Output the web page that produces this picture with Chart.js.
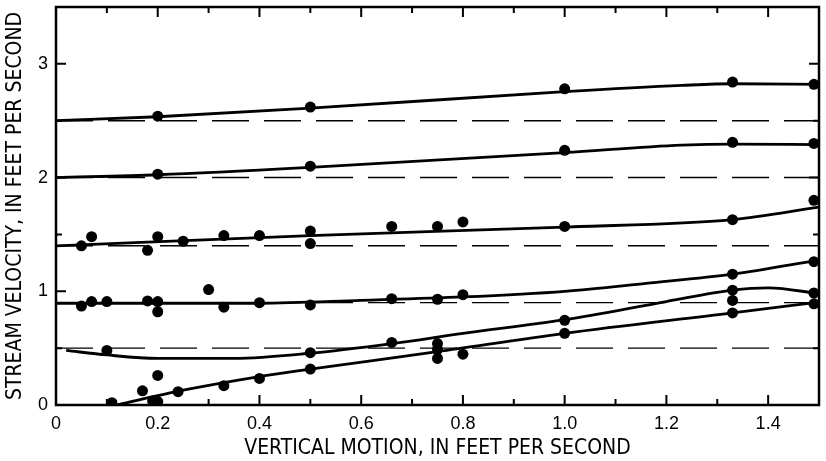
<!DOCTYPE html>
<html>
<head>
<meta charset="utf-8">
<script src="https://cdn.jsdelivr.net/npm/chart.js@4.4.1/dist/chart.umd.min.js"></script>
<style>
  html, body { margin: 0; padding: 0; background: #fff; }
  #wrap { width: 826px; height: 461px; position: relative; }
</style>
</head>
<body>
<div id="wrap"><canvas id="myChart"></canvas></div>
<script>
// reference levels (dashed lines)
const bandLevels = [2.5, 2.0, 1.4, 0.9, 0.5];

const bandAX = [0.2, 0.5, 1.0, 1.33, 1.49];
const bandAY = [2.54, 2.62, 2.78, 2.84, 2.82];
const bandBX = [0.2, 0.5, 1.0, 1.33, 1.49];
const bandBY = [2.03, 2.10, 2.24, 2.31, 2.30];
const bandCX = [0.05, 0.07, 0.18, 0.2, 0.25, 0.33, 0.4, 0.5, 0.5, 0.66, 0.75, 0.8, 1.0, 1.33, 1.49];
const bandCY = [1.40, 1.48, 1.36, 1.48, 1.44, 1.49, 1.49, 1.53, 1.42, 1.57, 1.57, 1.61, 1.57, 1.63, 1.80];
const bandDX = [0.05, 0.07, 0.1, 0.18, 0.2, 0.2, 0.3, 0.33, 0.4, 0.5, 0.66, 0.75, 0.8, 1.33, 1.49];
const bandDY = [0.87, 0.91, 0.91, 0.915, 0.91, 0.82, 1.015, 0.86, 0.90, 0.88, 0.935, 0.93, 0.97, 1.15, 1.26];
const bandEX = [0.1, 0.5, 0.66, 0.75, 0.75, 1.0, 1.33, 1.33, 1.49];
const bandEY = [0.48, 0.46, 0.55, 0.54, 0.49, 0.745, 1.01, 0.92, 0.985];
const bandFX = [0.11, 0.17, 0.19, 0.2, 0.2, 0.24, 0.33, 0.4, 0.5, 0.75, 0.8, 1.0, 1.33, 1.49];
const bandFY = [0.02, 0.125, 0.035, 0.03, 0.26, 0.117, 0.17, 0.234, 0.316, 0.41, 0.447, 0.63, 0.81, 0.89];

// hand-fitted curves as drawn in the figure
const curveAX = [0, 0.2, 0.5, 1.0, 1.23, 1.33, 1.5];
const curveAY = [2.50, 2.535, 2.61, 2.755, 2.81, 2.825, 2.82];
const curveBX = [0, 0.2, 0.5, 1.0, 1.23, 1.33, 1.5];
const curveBY = [2.0, 2.025, 2.09, 2.22, 2.285, 2.295, 2.29];
const curveCX = [0, 0.5, 1.0, 1.33, 1.5];
const curveCY = [1.40, 1.49, 1.565, 1.63, 1.74];
const curveDX = [0, 0.4, 0.6, 0.8, 1.0, 1.16, 1.33, 1.5];
const curveDY = [0.895, 0.895, 0.92, 0.95, 1.0, 1.07, 1.15, 1.275];
const curveEX = [0.02, 0.1, 0.2, 0.35, 0.5, 0.66, 0.8, 1.0, 1.2, 1.33, 1.4, 1.5];
const curveEY = [0.48, 0.44, 0.41, 0.41, 0.455, 0.54, 0.63, 0.75, 0.91, 1.01, 1.03, 0.98];
const curveFX = [0.12, 0.25, 0.4, 0.5, 0.75, 1.0, 1.33, 1.5];
const curveFY = [0, 0.13, 0.25, 0.315, 0.47, 0.63, 0.81, 0.905];

// tick marks (drawn inward on all four sides)
const xMajorTicks = [0.2, 0.4, 0.6, 0.8, 1.0, 1.2, 1.4];
const xMinorTicks = [0.1, 0.3, 0.5, 0.7, 0.9, 1.1, 1.3];
const yMajorTicks = [1, 2, 3];
const yMinorTicks = [0.5, 1.5, 2.5];

const X_MIN = 0, X_MAX = 1.5, Y_MIN = 0, Y_MAX = 3.5;

const FONT = "'Liberation Sans Narrow', 'Arial Narrow', 'DejaVu Sans Condensed', sans-serif";
const TICK_FONT = "'Liberation Sans', Arial, sans-serif";

function zip(xs, ys) {
    return xs.map((x, i) => ({x: x, y: ys[i]}));
}

const pointSets = [[bandAX, bandAY], [bandBX, bandBY], [bandCX, bandCY],
                   [bandDX, bandDY], [bandEX, bandEY], [bandFX, bandFY]];
const curveSets = [[curveAX, curveAY], [curveBX, curveBY], [curveCX, curveCY],
                   [curveDX, curveDY], [curveEX, curveEY], [curveFX, curveFY]];

const datasets = [];

pointSets.forEach(([xs, ys]) => {
    datasets.push({
        data: zip(xs, ys),
        showLine: false,
        pointRadius: 5.5,
        pointBackgroundColor: '#000',
        pointBorderWidth: 0,
        order: 0
    });
});

curveSets.forEach(([xs, ys]) => {
    datasets.push({
        data: zip(xs, ys),
        showLine: true,
        borderColor: '#000',
        borderWidth: 2.8,
        pointRadius: 0,
        cubicInterpolationMode: 'monotone',
        order: 1
    });
});

bandLevels.forEach(level => {
    datasets.push({
        data: [{x: X_MIN, y: level}, {x: X_MAX, y: level}],
        showLine: true,
        borderColor: '#000',
        borderWidth: 1.4,
        borderDash: [37, 15],
        pointRadius: 0,
        order: 2
    });
});

// frame + inward ticks, placed through the chart's own scales
const frameTicks = {
    id: 'frameTicks',
    afterDatasetsDraw(chart) {
        const {ctx, chartArea: a, scales: {x, y}} = chart;
        ctx.save();
        ctx.strokeStyle = '#000';
        ctx.lineWidth = 2.5;
        ctx.strokeRect(a.left, a.top, a.right - a.left, a.bottom - a.top);
        ctx.lineWidth = 2;
        ctx.beginPath();
        const xt = (vals, len) => vals.forEach(v => {
            const px = x.getPixelForValue(v);
            ctx.moveTo(px, a.bottom); ctx.lineTo(px, a.bottom - len);
            ctx.moveTo(px, a.top); ctx.lineTo(px, a.top + len);
        });
        const yt = (vals, len) => vals.forEach(v => {
            const py = y.getPixelForValue(v);
            ctx.moveTo(a.left, py); ctx.lineTo(a.left + len, py);
            ctx.moveTo(a.right, py); ctx.lineTo(a.right - len, py);
        });
        xt(xMajorTicks, 10);
        xt(xMinorTicks, 6);
        yt(yMajorTicks, 10);
        yt(yMinorTicks, 6);
        ctx.stroke();
        ctx.restore();
    }
};

const config = {
    type: 'scatter',
    data: {datasets: datasets},
    options: {
        responsive: true,
        maintainAspectRatio: false,
        animation: false,
        layout: {padding: {top: 7, right: 7, left: 0, bottom: 0}},
        plugins: {
            legend: {display: false},
            tooltip: {enabled: false}
        },
        scales: {
            x: {
                type: 'linear',
                min: X_MIN,
                max: X_MAX,
                afterFit: s => { s.height = 56; s.paddingLeft = 0; s.paddingRight = 0; },
                grid: {display: false, drawTicks: false},
                border: {display: false},
                ticks: {
                    stepSize: 0.2,
                    includeBounds: false,
                    padding: 8,
                    color: '#000',
                    font: {family: TICK_FONT, size: 18},
                    callback: v => v === 0 ? '0' : v.toFixed(1)
                },
                title: {
                    display: true,
                    text: 'VERTICAL MOTION, IN FEET PER SECOND',
                    color: '#000',
                    font: {family: FONT, size: 21, lineHeight: 1},
                    padding: {top: 0, bottom: 2}
                }
            },
            y: {
                type: 'linear',
                min: Y_MIN,
                max: Y_MAX,
                afterFit: s => { s.width = 56; s.paddingTop = 0; s.paddingBottom = 0; },
                grid: {display: false, drawTicks: false},
                border: {display: false},
                ticks: {
                    stepSize: 1,
                    includeBounds: false,
                    padding: 8,
                    color: '#000',
                    font: {family: TICK_FONT, size: 18},
                    callback: v => Number.isInteger(v) ? String(v) : ''
                },
                title: {
                    display: true,
                    text: 'STREAM VELOCITY, IN FEET PER SECOND',
                    color: '#000',
                    font: {family: FONT, size: 21, lineHeight: 1},
                    padding: {top: 5, bottom: 0}
                }
            }
        }
    },
    plugins: [frameTicks]
};

const myChart = new Chart(document.getElementById('myChart'), config);
</script>
</body>
</html>
